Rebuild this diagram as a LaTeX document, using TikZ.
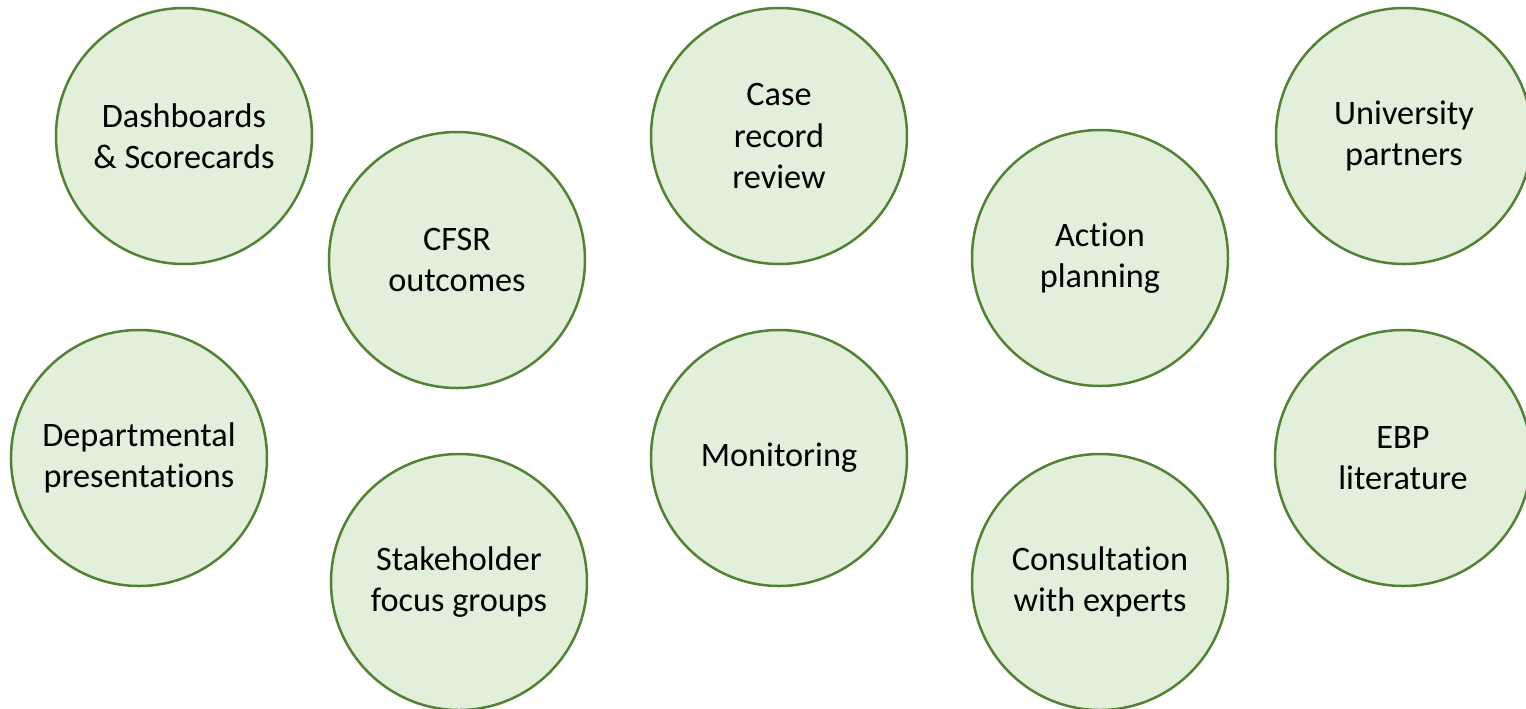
\documentclass[tikz,border=0pt]{standalone}
\usepackage{fontspec}
\setmainfont[Ligatures=NoCommon]{Carlito}
\usetikzlibrary{positioning}

\definecolor{bubblefill}{HTML}{E2EFDA}
\definecolor{bubbleline}{HTML}{548235}

\begin{document}
\begin{tikzpicture}[node distance=6.42cm,on grid,
	font=\fontsize{19.5}{23.6}\selectfont]
	\tikzstyle{bubble}=[circle,fill=bubblefill,draw=bubbleline,line width=0.05cm,
	text=black,align=center,minimum size=5.12cm,inner sep=0pt]
	
	\useasboundingbox (-15.58,-5.00) rectangle (14.94,9.16);
	
	\node[bubble] (mon) {Monitoring};
	\node[bubble] (case) [above=6.44cm of mon] {Case\\record\\review};
	\node[bubble] (cfsr) [above left=3.96cm and 6.44cm of mon] {CFSR\\outcomes};
	\node[bubble] (act) [above right=4.00cm and 6.42cm of mon] {Action\\planning};
	\node[bubble] (stake) [below left=2.48cm and 6.40cm of mon] {Stakeholder\\focus groups};
	\node[bubble] (cons) [below right=2.48cm and 6.42cm of mon] {Consultation\\with experts};
	\node[bubble] (dash) [above left=2.48cm and 5.46cm of cfsr] {Dashboards\\\& Scorecards};
	\node[bubble] (dept) [left=12.80cm of mon] {Departmental\\presentations};
	\node[bubble] (univ) [above right=2.44cm and 6.08cm of act] {University\\partners};
	\node[bubble] (ebp) [right=12.48cm of mon] {EBP\\literature};
\end{tikzpicture}
\end{document}
